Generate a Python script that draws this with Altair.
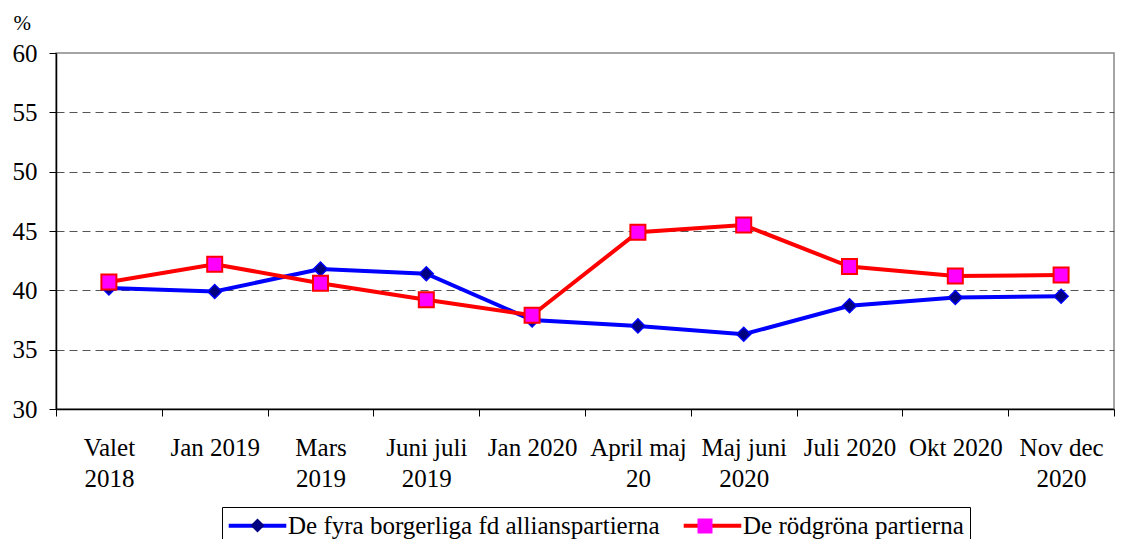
import altair as alt
import pandas as pd

# ---- data ----
periods = [
    "Valet\n2018", "Jan 2019", "Mars\n2019", "Juni juli\n2019", "Jan 2020",
    "April maj\n20", "Maj juni\n2020", "Juli 2020", "Okt 2020", "Nov dec\n2020",
]
alliance = [40.2, 39.9, 41.8, 41.4, 37.5, 37.0, 36.3, 38.7, 39.4, 39.5]
redgreen = [40.7, 42.2, 40.6, 39.2, 37.9, 44.9, 45.5, 42.0, 41.2, 41.3]
series_names = ["De fyra borgerliga fd allianspartierna", "De rödgröna partierna"]
y_ticks = [30, 35, 40, 45, 50, 55, 60]

# ---- styles ----
line_colors = ["#0000FF", "#FF0000"]
marker_fills = ["#000080", "#FF00FF"]
marker_shapes = ["diamond", "square"]
marker_sizes = [196, 225]
marker_strokes = [1.5, 2]
marker_legend_x = [193.5, 640]
marker_legend_y = [464.5, 464]
legend_line_path = "M-3.2,0H3.2"
FONT = "Liberation Serif"
FS = 25

rows = []
for p, a, r in zip(periods, alliance, redgreen):
    rows.append({"period": p, "series": series_names[0], "value": a})
    rows.append({"period": p, "series": series_names[1], "value": r})
df = pd.DataFrame(rows)

x_enc = alt.X(
    "period:N",
    sort=periods,
    bandPosition=0.5,
    scale=alt.Scale(type="band", paddingInner=0, paddingOuter=0),
    axis=alt.Axis(
        title=None,
        labelAngle=0,
        labelExpr="split(datum.label, '\\n')",
        labelAlign="center",
        labelBaseline="top",
        labelLineHeight=31,
        labelPadding=19,
        labelFont=FONT,
        labelFontSize=FS,
        labelColor="#000000",
        tickBand="extent",
        tickSize=7,
        tickColor="#000000",
        domainColor="#000000",
        domainWidth=1.5,
        grid=False,
    ),
)

y_enc = alt.Y(
    "value:Q",
    scale=alt.Scale(domain=[30, 60], nice=False, zero=False),
    axis=alt.Axis(
        values=y_ticks,
        title="%",
        titleAngle=0,
        titleAlign="left",
        titleBaseline="alphabetic",
        titleX=-43,
        titleY=-24,
        titleFont=FONT,
        titleFontSize=21,
        titleFontWeight="normal",
        titleColor="#000000",
        labelFont=FONT,
        labelFontSize=FS,
        labelColor="#000000",
        labelPadding=12,
        tickSize=7,
        tickColor="#000000",
        domainColor="#000000",
        domainWidth=1.5,
        grid=True,
        gridColor="#555555",
        gridDash=[8, 5],
        gridWidth=1,
        gridOpacity={
            "condition": {"test": "datum.value === 30 || datum.value === 60", "value": 0},
            "value": 1,
        },
    ),
)

# legend box, labels and the line part of each legend symbol
line_legend = alt.Legend(
    title=None,
    orient="none",
    direction="horizontal",
    legendX=166,
    legendY=454,
    padding=6,
    strokeColor="#000000",
    fillColor="#FFFFFF",
    labelFont=FONT,
    labelFontSize=FS,
    labelColor="#000000",
    labelLimit=2000,
    symbolType=legend_line_path,
    symbolSize=324,
    symbolStrokeWidth=4,
    symbolOffset=17,
    labelOffset=18,
    columnPadding=15,
    zindex=1,
)

lines = alt.Chart(df).mark_line(strokeWidth=4).encode(
    x=x_enc,
    y=y_enc,
    stroke=alt.Stroke(
        "series:N",
        sort=series_names,
        scale=alt.Scale(domain=series_names, range=line_colors),
        legend=line_legend,
    ),
)

marker_layers = []
for i, name in enumerate(series_names):
    mk_legend = alt.Legend(
        title=None,
        orient="none",
        legendX=marker_legend_x[i],
        legendY=marker_legend_y[i],
        padding=0,
        labelExpr="''",
        labelFontSize=1,
        symbolSize=marker_sizes[i],
        symbolStrokeWidth=marker_strokes[i] + 0.5,
        symbolStrokeColor=line_colors[i],
        symbolOpacity=1,
        symbolOffset=0,
        labelOffset=0,
        zindex=2,
    )
    marker_layers.append(
        alt.Chart(df)
        .transform_filter(alt.datum.series == name)
        .mark_point(
            filled=True,
            size=marker_sizes[i],
            stroke=line_colors[i],
            strokeWidth=marker_strokes[i],
            opacity=1,
        )
        .encode(
            x=x_enc,
            y=y_enc,
            color=alt.Color("series:N", scale=alt.Scale(range=[marker_fills[i]]), legend=mk_legend),
            shape=alt.Shape("series:N", scale=alt.Scale(range=[marker_shapes[i]]), legend=mk_legend),
        )
    )

chart = (
    alt.layer(lines, *marker_layers)
    .resolve_scale(color="independent", shape="independent")
    .properties(
        width=1058,
        height=356,
        padding={"left": 48, "top": 45, "right": 1, "bottom": 130},
        autosize=alt.AutoSizeParams(type="none"),
        background="#FFFFFF",
    )
    .configure_view(stroke="#888888", strokeWidth=1.5)
)

chart.save("out.html", embed_options={"renderer": "svg", "actions": False})
